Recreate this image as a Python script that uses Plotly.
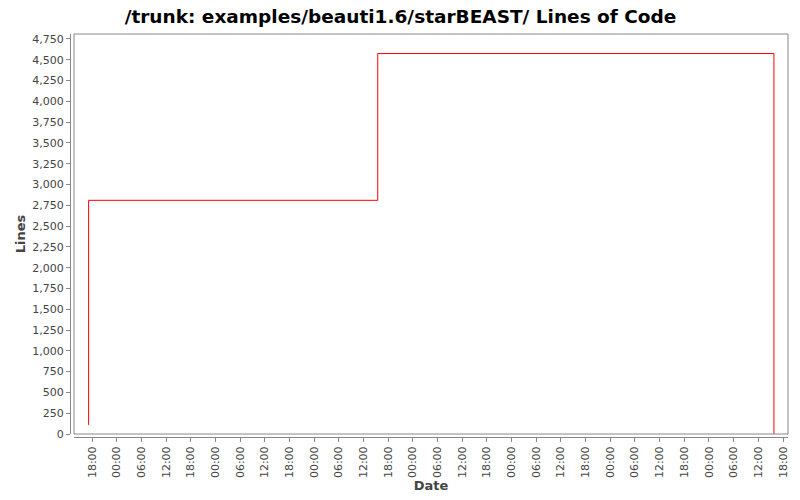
import plotly.graph_objects as go

# commit history (lines of code over time)
dates = ["2010-06-14 17:06", "2010-06-14 17:10", "2010-06-17 15:28", "2010-06-21 15:48"]
lines = [110, 2810, 4575, 0]

x_range = ["2010-06-14 13:37", "2010-06-21 19:13"]
y_range = [0, 4810]

# the page body has an 8px margin, so the figure is a bit smaller than the window
W, H = 792, 492

fig = go.Figure()
fig.add_trace(go.Scatter(x=dates, y=lines, mode="lines", line_shape="hv",
                         line=dict(color="#ff0000", width=1), showlegend=False))

axis_font = dict(family="DejaVu Sans", size=11, color="#444444")
fig.update_layout(
    width=W, height=H,
    paper_bgcolor="white", plot_bgcolor="white",
    margin=dict(l=62, r=12, t=26, b=63, autoexpand=False),
    title=dict(text="<b>/trunk: examples/beauti1.6/starBEAST/ Lines of Code</b>",
               x=392.5 / W, xanchor="center", y=1 - 9 / H, yanchor="middle",
               font=dict(family="DejaVu Sans", size=18.5, color="#000000")),
    xaxis=dict(domain=[4 / 718, 1], anchor="free", position=0, range=x_range,
               tick0="2010-06-14 00:00", dtick=21600000, tickformat="%H:%M",
               tickangle=-90, ticks="outside", ticklen=4, tickcolor="#888888",
               showline=True, linecolor="#888888", linewidth=1, showgrid=False,
               zeroline=False, tickfont=axis_font, automargin=False,
               title=dict(text="<b>Date</b>", standoff=2,
                          font=dict(family="DejaVu Sans", size=13, color="#444444"))),
    yaxis=dict(domain=[3 / 403, 1], anchor="free", position=0, range=y_range,
               dtick=250, tickformat=",d", ticks="outside", ticklen=4,
               tickcolor="#888888", showline=True, linecolor="#888888", linewidth=1,
               showgrid=False, zeroline=False, tickfont=axis_font, automargin=False,
               title=dict(text="<b>Lines</b>", standoff=2,
                          font=dict(family="DejaVu Sans", size=13, color="#444444"))),
)
fig.add_shape(type="rect", xref="x domain", yref="y domain", x0=0, x1=1, y0=0, y1=1,
              line=dict(color="#888888", width=1), layer="above")

fig.write_html("out.html")
